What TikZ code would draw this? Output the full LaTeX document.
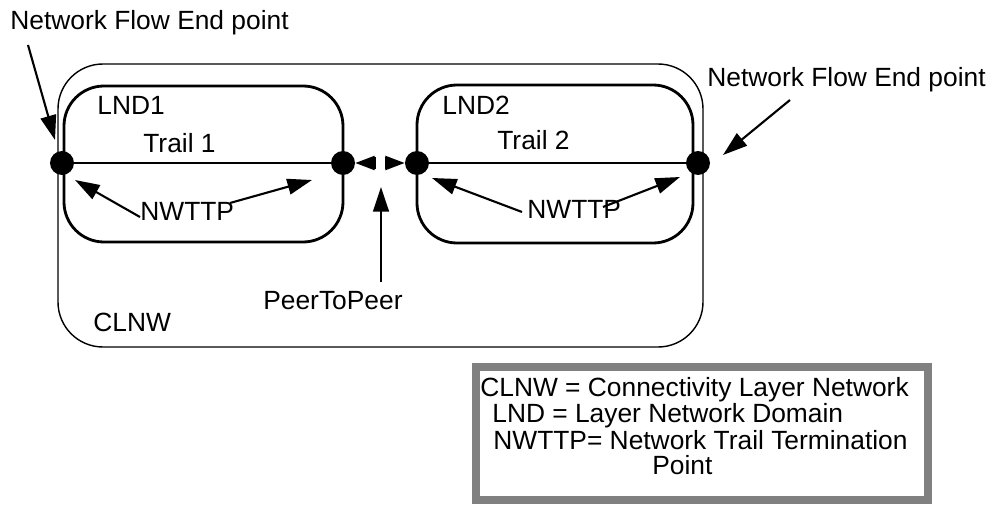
\documentclass[tikz,border=0pt]{standalone}
\usepackage{fontspec}
\setmainfont{Liberation Sans}
\usetikzlibrary{arrows.meta}

\begin{document}
\begin{tikzpicture}[
		x=0.02cm, y=-0.02cm,
		font=\fontsize{15}{17}\selectfont,
		lbl/.style={anchor=base west, inner sep=0pt},
		dot/.style={circle, fill=black, inner sep=0pt, minimum size=0.48cm},
		outerbox/.style={draw, line width=0.8pt, rounded corners=0.9cm},
		lndbox/.style={draw, line width=1.6pt, rounded corners=0.8cm},
		trail/.style={line width=1.2pt},
		arr/.style={-{Triangle[length=14pt, width=9pt]}, line width=1.2pt},
		peer/.style={{Bar[width=7pt]}-{Triangle[length=11pt, width=8pt]}, line width=1.2pt},
		legendbox/.style={draw=gray, line width=4.5pt, fill=white, minimum width=9.04cm, minimum height=2.66cm}
	]
	\useasboundingbox (0,0) rectangle (995,510);

	% domains
	\draw[outerbox] (58,64) rectangle (703,347);
	\draw[lndbox] (64,86) rectangle (343,242);
	\draw[lndbox] (417,85) rectangle (693,243);

	% termination points
	\node[dot] (d1) at (62,163) {};
	\node[dot] (d2) at (343,163) {};
	\node[dot] (d3) at (417,163) {};
	\node[dot] (d4) at (698,163) {};
	\draw[trail] (d1) -- (d2);
	\draw[trail] (d3) -- (d4);

	% labels
	\node[lbl] (nfe1) at (10,30) {Network Flow End point};
	\node[lbl] (nfe2) at (707,87) {Network Flow End point};
	\node[lbl] (lnd1) at (97,115) {LND1};
	\node[lbl] (trail1) at (143,153) {Trail 1};
	\node[lbl] (lnd2) at (442,115) {LND2};
	\node[lbl] (trail2) at (497,150) {Trail 2};
	\node[lbl] (nw1) at (140,220) {NWTTP};
	\node[lbl] (nw2) at (527,218) {NWTTP};
	\node[lbl] (p2p) at (263,310) {PeerToPeer};
	\node[lbl] (clnw) at (93,332) {CLNW};

	% arrow ends
	\coordinate (nfe1s) at (28,45);   \coordinate (nfe1t) at (55,140);
	\coordinate (nfe2s) at (790,100); \coordinate (nfe2t) at (723,155);
	\coordinate (nw1a) at (140,217);  \coordinate (nw1at) at (75,180);
	\coordinate (nw1b) at (230,203);  \coordinate (nw1bt) at (312,180);
	\coordinate (nw2a) at (522,212);  \coordinate (nw2at) at (432,178);
	\coordinate (nw2b) at (603,207);  \coordinate (nw2bt) at (680,177);
	\coordinate (pl) at (376,163);    \coordinate (pr) at (385,163);
	\coordinate (p2ps) at (381,282);  \coordinate (p2pt) at (381,187);

	\draw[arr] (nfe1s) -- (nfe1t);
	\draw[arr] (nfe2s) -- (nfe2t);
	\draw[arr] (nw1a) -- (nw1at);
	\draw[arr] (nw1b) -- (nw1bt);
	\draw[arr] (nw2a) -- (nw2at);
	\draw[arr] (nw2b) -- (nw2bt);
	\draw[peer] (pl) -- (d2);
	\draw[peer] (pr) -- (d3);
	\draw[arr] (p2ps) -- (p2pt);

	% legend
	\node[legendbox] (legend) at (702,433.5) {};
	\node[lbl] (leg1) at (480,396) {CLNW = Connectivity Layer Network};
	\node[lbl] (leg2) at (492,422) {LND = Layer Network Domain};
	\node[lbl] (leg3) at (493,449) {NWTTP= Network Trail Termination};
	\node[lbl] (leg4) at (652,474) {Point};
\end{tikzpicture}
\end{document}
